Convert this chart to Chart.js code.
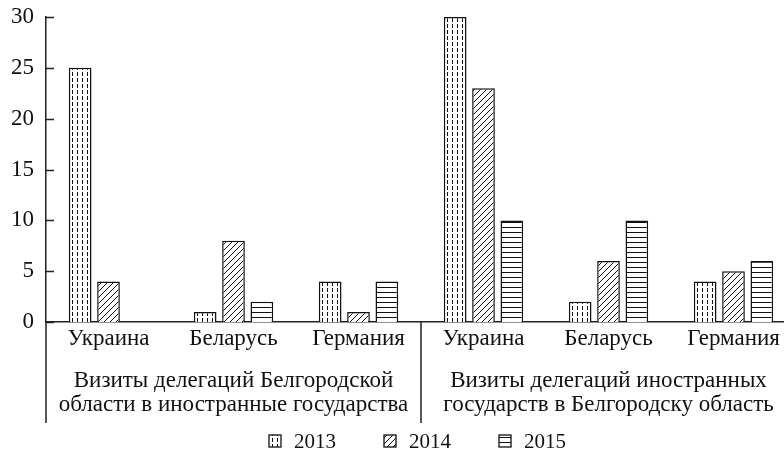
<!DOCTYPE html>
<html>
<head>
<meta charset="utf-8">
<script src="https://cdn.jsdelivr.net/npm/chart.js@4.4.1/dist/chart.umd.min.js"></script>
<style>
  html, body { margin: 0; padding: 0; background: #fff; overflow: hidden; }
  #wrap { width: 784px; height: 464px; overflow: hidden; }
</style>
</head>
<body>
<div id="wrap">
  <canvas id="myChart" width="842" height="464"></canvas>
</div>
<script>
// data
const categories = ['Украина', 'Беларусь', 'Германия', 'Украина', 'Беларусь', 'Германия'];
const groupLabels = [
  ['Визиты делегаций Белгородской', 'области в иностранные государства'],
  ['Визиты делегаций иностранных', 'государств в Белгородску область']
];
const years = ['2013', '2014', '2015'];
const values2013 = [25, 1, 4, 30, 2, 4];
const values2014 = [4, 8, 1, 23, 6, 5];
const values2015 = [0, 2, 4, 10, 10, 6];
const yTicks = [0, 5, 10, 15, 20, 25, 30];

const FONT = '"Liberation Serif", "Times New Roman", serif';

// hatch fills
function makePattern(kind) {
  const c = document.createElement('canvas');
  const g = c.getContext('2d');
  if (kind === 'vdash') {
    c.width = 5; c.height = 6;
    g.fillStyle = '#fff'; g.fillRect(0, 0, 5, 6);
    g.fillStyle = '#111'; g.fillRect(2, 0, 1, 4);
  } else if (kind === 'diag') {
    c.width = 6; c.height = 6;
    g.fillStyle = '#fff'; g.fillRect(0, 0, 6, 6);
    g.strokeStyle = '#111'; g.lineWidth = 1;
    g.beginPath();
    g.moveTo(-1, 7); g.lineTo(7, -1);
    g.moveTo(-1, 1); g.lineTo(1, -1);
    g.moveTo(5, 7); g.lineTo(7, 5);
    g.stroke();
  } else {
    c.width = 4; c.height = 5;
    g.fillStyle = '#fff'; g.fillRect(0, 0, 4, 5);
    g.fillStyle = '#111'; g.fillRect(0, 2, 4, 1);
  }
  return g.createPattern(c, 'repeat');
}

const fills = [makePattern('vdash'), makePattern('diag'), makePattern('horiz')];
const series = [values2013, values2014, values2015];

// inward y ticks, separators under the axis, and the legend row
const decorations = {
  id: 'decorations',
  afterDraw(chart) {
    const ctx = chart.ctx;
    const x = chart.scales.x, y = chart.scales.y;
    const area = chart.chartArea;
    ctx.save();
    ctx.strokeStyle = '#222';
    ctx.lineWidth = 1.5;
    ctx.beginPath();
    yTicks.forEach(v => {
      const py = Math.round(y.getPixelForValue(v)) + 0.5;
      ctx.moveTo(area.left, py);
      ctx.lineTo(area.left + 8, py);
    });
    const mid = (x.getPixelForTick(2) + x.getPixelForTick(3)) / 2;
    [area.left, mid].forEach(px => {
      ctx.moveTo(px, area.bottom);
      ctx.lineTo(px, 423);
    });
    ctx.stroke();

    // legend
    const cy = 441;
    let lx = (area.left + area.right) / 2 - 152;
    ctx.font = '21px ' + FONT;
    ctx.textBaseline = 'middle';
    chart.data.datasets.forEach(ds => {
      ctx.fillStyle = ds.backgroundColor;
      ctx.fillRect(lx, cy - 6, 12, 12);
      ctx.lineWidth = 1.3;
      ctx.strokeStyle = '#111';
      ctx.strokeRect(lx, cy - 6, 12, 12);
      ctx.fillStyle = '#111';
      ctx.fillText(ds.label, lx + 25, cy + 1);
      lx += 115;
    });
    ctx.restore();
  }
};

new Chart(document.getElementById('myChart'), {
  type: 'bar',
  data: {
    labels: categories,
    datasets: years.map((yr, i) => ({
      label: yr,
      data: series[i],
      backgroundColor: fills[i],
      borderColor: '#111',
      borderWidth: 1.5,
      categoryPercentage: 0.68,
      barPercentage: 0.8
    }))
  },
  options: {
    responsive: false,
    animation: false,
    devicePixelRatio: 1,
    layout: { padding: { top: 17, right: 46, left: 0, bottom: 34 } },
    plugins: {
      tooltip: { enabled: false },
      legend: { display: false }
    },
    scales: {
      x: {
        grid: { display: false, drawTicks: false },
        border: { color: '#222', width: 1.5 },
        ticks: { color: '#111', font: { family: FONT, size: 23 }, padding: 3, maxRotation: 0 }
      },
      x2: {
        type: 'category',
        labels: groupLabels,
        position: 'bottom',
        offset: true,
        grid: { display: false, drawTicks: false },
        border: { display: false },
        ticks: { color: '#111', font: { family: FONT, size: 23, lineHeight: 1.05 }, padding: 13, maxRotation: 0 }
      },
      y: {
        min: 0,
        max: 30,
        afterFit(scale) {
          scale.width = 46;
          scale.paddingTop = 0;
          scale.paddingBottom = 0;
        },
        afterBuildTicks(scale) { scale.ticks = yTicks.map(v => ({ value: v })); },
        grid: { display: false, drawTicks: false },
        border: { color: '#222', width: 1.5 },
        ticks: { color: '#111', font: { family: FONT, size: 23 }, padding: 12 }
      }
    }
  },
  plugins: [decorations]
});
</script>
</body>
</html>
